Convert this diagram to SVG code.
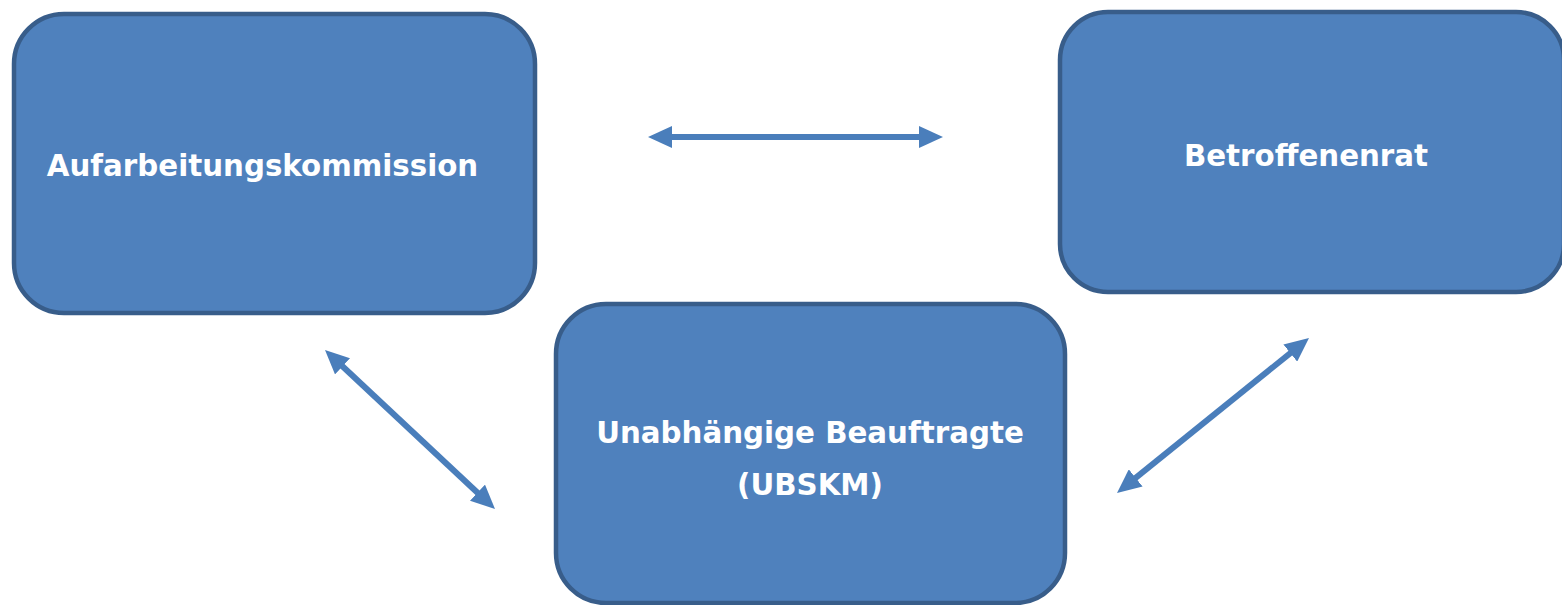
<svg xmlns="http://www.w3.org/2000/svg" width="1562" height="605" viewBox="0 0 1562 605">
<style>
.box{fill:#4F81BD;stroke:#385D8A;stroke-width:4.5}
.lbl{font-family:"DejaVu Sans",Verdana,sans-serif;font-weight:bold;font-size:29.3px;fill:#FFFFFF;text-anchor:middle}
.conn{stroke:#4A7EBB;stroke-width:6;fill:none;marker-start:url(#ah);marker-end:url(#ah)}
</style>
<defs>
<marker id="ah" viewBox="0 0 24 22" markerWidth="24" markerHeight="22" refX="14" refY="11" markerUnits="userSpaceOnUse" orient="auto-start-reverse">
<path d="M0,0 L24,11 L0,22 z" fill="#4A7EBB"/>
</marker>
</defs>
<rect width="1562" height="605" fill="#FFFFFF"/>
<g id="connectors">
<line class="conn" x1="658" y1="137" x2="933" y2="137"/>
<line class="conn" x1="332.3" y1="356.8" x2="487.7" y2="502.2"/>
<line class="conn" x1="1124.8" y1="486.7" x2="1301.2" y2="344.3"/>
</g>
<g id="node-aufarbeitungskommission">
<rect class="box" x="14" y="14" width="521" height="299" rx="50"/>
<text class="lbl" x="262.5" y="176">Aufarbeitungskommission</text>
</g>
<g id="node-betroffenenrat">
<rect class="box" x="1060" y="12" width="504" height="280" rx="48"/>
<text class="lbl" x="1306" y="166">Betroffenenrat</text>
</g>
<g id="node-ubskm">
<rect class="box" x="556" y="304" width="509" height="299" rx="50"/>
<text class="lbl" x="810" y="443">Unabhängige Beauftragte</text>
<text class="lbl" x="810" y="495">(UBSKM)</text>
</g>
</svg>
